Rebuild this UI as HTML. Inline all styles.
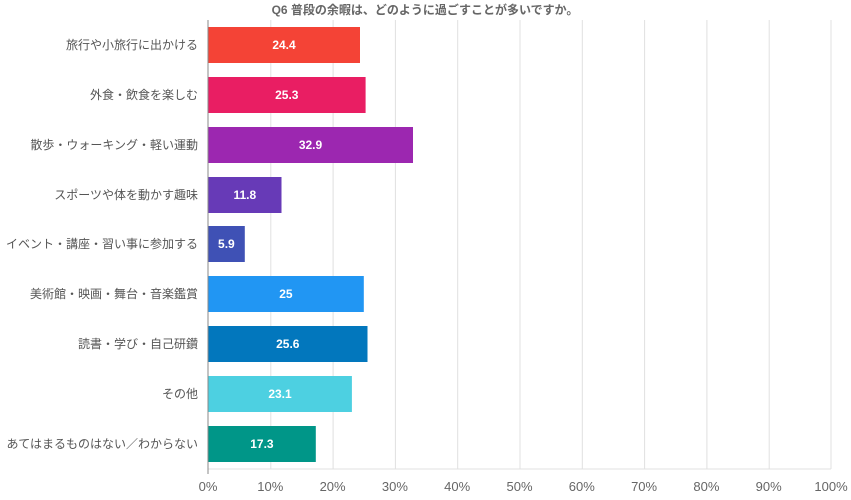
<!DOCTYPE html>
<html><head><meta charset="utf-8"><style>body{margin:0;background:#fff}svg{display:block}</style></head>
<body>
<svg width="851" height="500" xmlns="http://www.w3.org/2000/svg" font-family="Liberation Sans, Noto Sans CJK JP, sans-serif">
<text x="425" y="14" text-anchor="middle" font-size="12" font-weight="bold" fill="#666">Q6 普段の余暇は、どのように過ごすことが多いですか。</text>
<g stroke="#e0e0e0" stroke-width="1">
<line x1="270.8" y1="20" x2="270.8" y2="469"/><line x1="333.1" y1="20" x2="333.1" y2="469"/><line x1="395.4" y1="20" x2="395.4" y2="469"/><line x1="457.7" y1="20" x2="457.7" y2="469"/><line x1="520" y1="20" x2="520" y2="469"/><line x1="582.3" y1="20" x2="582.3" y2="469"/><line x1="644.6" y1="20" x2="644.6" y2="469"/><line x1="706.9" y1="20" x2="706.9" y2="469"/><line x1="769.2" y1="20" x2="769.2" y2="469"/><line x1="831" y1="20" x2="831" y2="469"/>
<line x1="208" y1="469" x2="831" y2="469"/>
</g>
<g>
<rect x="208" y="27" width="152" height="36" fill="#F44336"/>
<rect x="208" y="77" width="157.6" height="36" fill="#E91E63"/>
<rect x="208" y="127" width="205" height="36" fill="#9C27B0"/>
<rect x="208" y="177" width="73.5" height="36" fill="#673AB7"/>
<rect x="208" y="226" width="36.8" height="36" fill="#3F51B5"/>
<rect x="208" y="276" width="155.8" height="36" fill="#2196F3"/>
<rect x="208" y="326" width="159.5" height="36" fill="#0277BD"/>
<rect x="208" y="376" width="143.9" height="36" fill="#4DD0E1"/>
<rect x="208" y="426" width="107.8" height="36" fill="#009688"/>
</g>
<line x1="208" y1="20" x2="208" y2="474" stroke="#888" stroke-width="1"/>
<g font-size="12" font-weight="bold" fill="#fff" text-anchor="middle">
<text x="284" y="49">24.4</text><text x="286.8" y="99">25.3</text><text x="310.5" y="149">32.9</text><text x="244.8" y="199">11.8</text><text x="226.4" y="248">5.9</text><text x="285.9" y="298">25</text><text x="287.8" y="348">25.6</text><text x="280" y="398">23.1</text><text x="261.9" y="448">17.3</text>
</g>
<g font-size="12" fill="#555" text-anchor="end">
<text x="198" y="49">旅行や小旅行に出かける</text>
<text x="198" y="99">外食・飲食を楽しむ</text>
<text x="198" y="149">散歩・ウォーキング・軽い運動</text>
<text x="198" y="199">スポーツや体を動かす趣味</text>
<text x="198" y="248">イベント・講座・習い事に参加する</text>
<text x="198" y="298">美術館・映画・舞台・音楽鑑賞</text>
<text x="198" y="348">読書・学び・自己研鑽</text>
<text x="198" y="398">その他</text>
<text x="198" y="448">あてはまるものはない／わからない</text>
</g>
<g font-size="13" fill="#666" text-anchor="middle">
<text x="208" y="491">0%</text><text x="270.3" y="491">10%</text><text x="332.6" y="491">20%</text><text x="394.9" y="491">30%</text><text x="457.2" y="491">40%</text><text x="519.5" y="491">50%</text><text x="581.8" y="491">60%</text><text x="644.1" y="491">70%</text><text x="706.4" y="491">80%</text><text x="768.7" y="491">90%</text><text x="831" y="491">100%</text>
</g>
</svg>
</body></html>
